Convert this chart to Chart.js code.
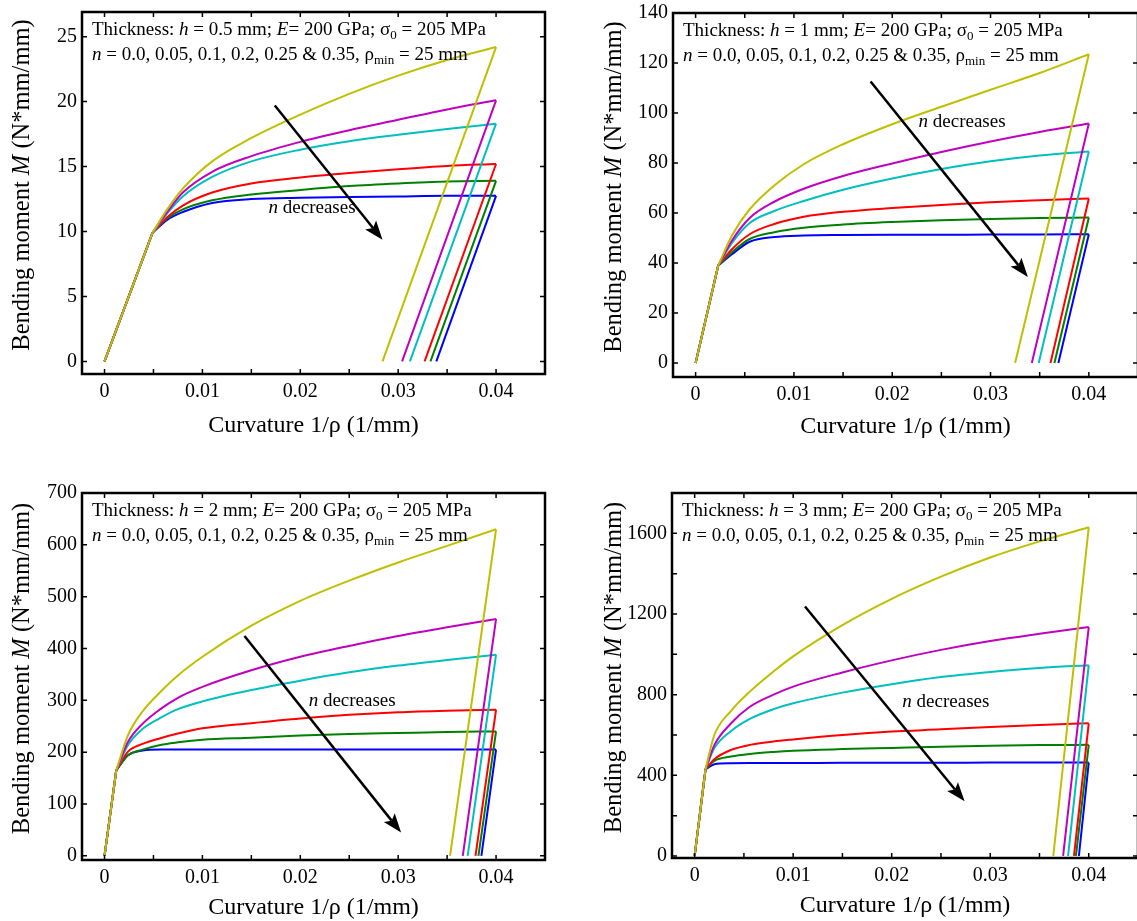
<!DOCTYPE html>
<html>
<head>
<meta charset="utf-8">
<script src="https://cdn.jsdelivr.net/npm/chart.js@4.4.0/dist/chart.umd.min.js"></script>
<style>
  html, body { margin: 0; padding: 0; background: #fff; overflow: hidden; }
  canvas { position: absolute; }
</style>
</head>
<body>
<canvas id="c1" width="592" height="470" style="left:0;top:0"></canvas>
<canvas id="c2" width="560" height="470" style="left:592px;top:0"></canvas>
<canvas id="c3" width="592" height="451" style="left:0;top:470px"></canvas>
<canvas id="c4" width="560" height="451" style="left:592px;top:470px"></canvas>
<script>
// hardening exponents, in drawing order (yellow ... blue)
const nValues = ['0.35', '0.25', '0.2', '0.1', '0.05', '0.0'];
const lineColors = ['#BFBF00', '#BF00BF', '#00BFBF', '#FF0000', '#008000', '#0000FF'];
const xTicks = [0, 0.005, 0.01, 0.015, 0.02, 0.025, 0.03, 0.035, 0.04, 0.045];

// h = 0.5 mm
const kappaA = [0, 0.0049, 0.0064, 0.008, 0.011, 0.015, 0.02, 0.025, 0.03, 0.035, 0.04];
const mA035 = [0, 9.9, 11.7, 13.3, 15.4, 17.2, 19.0, 20.6, 22.0, 23.2, 24.2];
const mA025 = [0, 9.9, 11.5, 13.0, 14.6, 15.8, 16.9, 17.8, 18.6, 19.4, 20.1];
const mA020 = [0, 9.9, 11.4, 12.7, 14.2, 15.4, 16.3, 16.95, 17.45, 17.9, 18.3];
const mA010 = [0, 9.9, 11.1, 12.0, 13.0, 13.7, 14.15, 14.5, 14.8, 15.05, 15.2];
const mA005 = [0, 9.9, 11.0, 11.7, 12.4, 12.85, 13.2, 13.5, 13.7, 13.85, 13.9];
const mA000 = [0, 9.9, 10.9, 11.5, 12.2, 12.5, 12.6, 12.65, 12.7, 12.75, 12.75];
const residualA = [0.0284, 0.0304, 0.0312, 0.0327, 0.0333, 0.0339];
const yTicksA = [0, 5, 10, 15, 20, 25];

// h = 1 mm
const kappaB = [0, 0.0023, 0.0037, 0.0055, 0.008, 0.011, 0.015, 0.02, 0.025, 0.03, 0.035, 0.04];
const mB035 = [0, 39, 51, 61.5, 71, 79.5, 87.5, 95.5, 102.5, 109.3, 116, 123.5];
const mB025 = [0, 39, 49, 58, 64.5, 69.7, 74.8, 79.8, 84.4, 88.6, 92.4, 95.8];
const mB020 = [0, 39, 48, 56, 60.8, 64.8, 69.3, 73.8, 77.6, 80.7, 83, 84.6];
const mB010 = [0, 39, 45.5, 51.5, 55.6, 58.5, 60.5, 62, 63.2, 64.3, 65.1, 65.8];
const mB005 = [0, 39, 44.3, 49.6, 52.3, 54.1, 55.4, 56.4, 57.1, 57.6, 58, 58.2];
const mB000 = [0, 39, 43.5, 48.5, 50.4, 51, 51.2, 51.3, 51.3, 51.4, 51.4, 51.5];
const residualB = [0.0325, 0.0342, 0.0349, 0.0361, 0.0365, 0.0369];
const yTicksB = [0, 20, 40, 60, 80, 100, 120, 140];

// h = 2 mm
const kappaC = [0, 0.0012, 0.0024, 0.0039, 0.0057, 0.0075, 0.01, 0.015, 0.02, 0.025, 0.03, 0.035, 0.04];
const mC035 = [0, 165, 233, 279, 316, 348, 384, 444, 492, 531, 566, 598, 630];
const mC025 = [0, 165, 220, 255, 283, 305, 326, 358, 384, 405, 424, 441, 457];
const mC020 = [0, 165, 214, 245, 266, 283, 298, 320, 338, 354, 367, 378, 388];
const mC010 = [0, 165, 201, 216, 227, 236, 246, 256, 265, 272, 277, 280, 282];
const mC005 = [0, 165, 194, 205, 214, 219, 224, 228, 232, 235, 237, 239, 240];
const mC000 = [0, 165, 194, 203, 205, 205, 205, 205, 205, 205, 205, 205, 205];
const residualC = [0.0353, 0.0366, 0.0371, 0.0379, 0.0382, 0.0385];
const yTicksC = [0, 100, 200, 300, 400, 500, 600, 700];

// h = 3 mm
const kappaD = [0, 0.0011, 0.002, 0.0037, 0.0056, 0.008, 0.01, 0.015, 0.02, 0.025, 0.03, 0.035, 0.04];
const mD035 = [0, 430, 600, 720, 815, 915, 990, 1145, 1275, 1385, 1480, 1560, 1630];
const mD025 = [0, 430, 550, 658, 740, 800, 840, 910, 970, 1022, 1066, 1102, 1135];
const mD020 = [0, 430, 535, 620, 680, 728, 757, 810, 852, 887, 912, 932, 946];
const mD010 = [0, 430, 480, 526, 551, 568, 578, 600, 617, 628, 640, 650, 658];
const mD005 = [0, 430, 472, 493, 506, 516, 522, 530, 536, 542, 547, 550, 551];
const mD000 = [0, 430, 455, 460, 461, 461, 461, 462, 462, 462, 463, 463, 463];
const residualD = [0.0364, 0.0374, 0.0379, 0.0385, 0.0387, 0.039];
const yTicksD = [0, 200, 400, 600, 800, 1000, 1200, 1400, 1600, 1800];

// arrow [x1, y1, x2, y2] and "n decreases" label [x, y], in data units
const arrowA = [0.0174, 19.7, 0.0284, 9.36];
const arrowB = [0.0178, 112.6, 0.0338, 34.4];
const arrowC = [0.0143, 424, 0.0303, 45];
const arrowD = [0.0112, 1237, 0.0274, 271];
const labelA = [0.0212, 11.9];
const labelB = [0.0271, 96.8];
const labelC = [0.0253, 301];
const labelD = [0.0255, 768];

const FONT = 'Liberation Serif';

const panels = [
  {id: 'c1', h: '0.5', w: 592, ht: 470, area: {l: 82, t: 12, r: 545, b: 374}, yMin: -0.97, yMax: 26.9,
   kappa: kappaA, m: [mA035, mA025, mA020, mA010, mA005, mA000], res: residualA, yTicks: yTicksA, yStep: 5,
   arrow: arrowA, label: labelA, xTitle: 58},
  {id: 'c2', h: '1', w: 560, ht: 470, area: {l: 81, t: 13, r: 546, b: 377}, yMin: -5.6, yMax: 140,
   kappa: kappaB, m: [mB035, mB025, mB020, mB010, mB005, mB000], res: residualB, yTicks: yTicksB, yStep: 20,
   arrow: arrowB, label: labelB, xTitle: 56},
  {id: 'c3', h: '2', w: 592, ht: 451, area: {l: 82, t: 23, r: 545, b: 390}, yMin: -8, yMax: 700,
   kappa: kappaC, m: [mC035, mC025, mC020, mC010, mC005, mC000], res: residualC, yTicks: yTicksC, yStep: 100,
   arrow: arrowC, label: labelC, xTitle: 54},
  {id: 'c4', h: '3', w: 560, ht: 451, area: {l: 80, t: 23, r: 546, b: 388}, yMin: -10, yMax: 1800,
   kappa: kappaD, m: [mD035, mD025, mD020, mD010, mD005, mD000], res: residualD, yTicks: yTicksD, yStep: 400,
   arrow: arrowD, label: labelD, xTitle: 54}
];

// draws text made of [string, style] parts; style n = normal, i = italic, s = subscript
function richText(ctx, parts, x, y, size, align){
  let fontFor = st => (st == 'i' ? 'italic ' : '') + (st == 's' ? Math.round(size*0.68) : size) + 'px "' + FONT + '"';
  let total = 0;
  parts.forEach(p => { ctx.font = fontFor(p[1]); total += ctx.measureText(p[0]).width; });
  let cx = align == 'center' ? x - total/2 : x;
  ctx.textAlign = 'left';
  ctx.textBaseline = 'alphabetic';
  parts.forEach(p => {
    ctx.font = fontFor(p[1]);
    ctx.fillText(p[0], cx, p[1] == 's' ? y + size*0.22 : y);
    cx += ctx.measureText(p[0]).width;
  });
}

function decorPlugin(p){
  return {
    id: 'decor',
    afterDatasetsDraw(chart){
      let ctx = chart.ctx;
      let a = chart.chartArea;
      let xs = chart.scales.x, ys = chart.scales.y;
      ctx.save();
      ctx.strokeStyle = '#000';
      ctx.fillStyle = '#000';

      // inward ticks on all four sides
      ctx.lineWidth = 1.5;
      ctx.beginPath();
      xTicks.forEach(v => {
        let px = xs.getPixelForValue(v);
        ctx.moveTo(px, a.bottom); ctx.lineTo(px, a.bottom - 5);
        ctx.moveTo(px, a.top); ctx.lineTo(px, a.top + 5);
      });
      p.yTicks.forEach(v => {
        let py = ys.getPixelForValue(v);
        ctx.moveTo(a.left, py); ctx.lineTo(a.left + 5, py);
        ctx.moveTo(a.right, py); ctx.lineTo(a.right - 5, py);
      });
      ctx.stroke();

      ctx.lineWidth = 2.5;
      ctx.strokeRect(a.left, a.top, a.right - a.left, a.bottom - a.top);

      // arrow
      let x1 = xs.getPixelForValue(p.arrow[0]), y1 = ys.getPixelForValue(p.arrow[1]);
      let x2 = xs.getPixelForValue(p.arrow[2]), y2 = ys.getPixelForValue(p.arrow[3]);
      let ang = Math.atan2(y2 - y1, x2 - x1);
      let headL = 19, headW = 7;
      ctx.lineWidth = 2.5;
      ctx.beginPath();
      ctx.moveTo(x1, y1);
      ctx.lineTo(x2 - headL*0.8*Math.cos(ang), y2 - headL*0.8*Math.sin(ang));
      ctx.stroke();
      ctx.beginPath();
      ctx.moveTo(x2, y2);
      ctx.lineTo(x2 - headL*Math.cos(ang) + headW*Math.sin(ang), y2 - headL*Math.sin(ang) - headW*Math.cos(ang));
      ctx.lineTo(x2 - headL*0.8*Math.cos(ang), y2 - headL*0.8*Math.sin(ang));
      ctx.lineTo(x2 - headL*Math.cos(ang) - headW*Math.sin(ang), y2 - headL*Math.sin(ang) + headW*Math.cos(ang));
      ctx.closePath();
      ctx.fill();

      richText(ctx, [['n', 'i'], [' decreases', 'n']],
        xs.getPixelForValue(p.label[0]), ys.getPixelForValue(p.label[1]) + 6, 19, 'center');

      // parameter note
      richText(ctx, [['Thickness: ', 'n'], ['h', 'i'], [' = ' + p.h + ' mm; ', 'n'], ['E', 'i'],
        ['= 200 GPa; \u03c3', 'n'], ['0', 's'], [' = 205 MPa', 'n']], a.left + 10, a.top + 23, 19);
      richText(ctx, [['n', 'i'], [' = ' + nValues.slice().reverse().join(', ').replace(', 0.35', ' & 0.35') + ', \u03c1', 'n'],
        ['min', 's'], [' = 25 mm', 'n']], a.left + 10, a.top + 48, 19);

      // axis titles
      richText(ctx, [['Curvature 1/\u03c1 (1/mm)', 'n']], (a.left + a.right)/2, a.bottom + p.xTitle, 24, 'center');
      ctx.translate(29, (a.top + a.bottom)/2 - 8);
      ctx.rotate(-Math.PI/2);
      richText(ctx, [['Bending moment ', 'n'], ['M', 'i'], [' (N*mm/mm)', 'n']], 0, 0, 24.5, 'center');
      ctx.restore();
    }
  };
}

panels.forEach(p => {
  let datasets = [];
  p.m.forEach((moments, i) => {
    let last = p.kappa.length - 1;
    let knee = {x: p.kappa[1], y: moments[1]};
    let peak = {x: p.kappa[last], y: moments[last]};
    let style = {borderColor: lineColors[i], borderWidth: 2, pointRadius: 0, fill: false};
    // elastic loading, hardening branch, elastic unloading
    datasets.push(Object.assign({label: 'n = ' + nValues[i], data: [{x: 0, y: 0}, knee], tension: 0}, style));
    datasets.push(Object.assign({label: 'n = ' + nValues[i],
      data: p.kappa.slice(1).map((k, j) => ({x: k, y: moments[j + 1]})),
      cubicInterpolationMode: 'monotone'}, style));
    datasets.push(Object.assign({label: 'n = ' + nValues[i], data: [peak, {x: p.res[i], y: 0}], tension: 0}, style));
  });

  new Chart(document.getElementById(p.id), {
    type: 'line',
    data: {datasets: datasets},
    options: {
      responsive: false,
      animation: false,
      layout: {padding: {top: p.area.t, right: p.w - p.area.r, left: 0, bottom: 0}},
      plugins: {legend: {display: false}, tooltip: {enabled: false}},
      scales: {
        x: {
          type: 'linear', min: -0.0023, max: 0.045,
          grid: {display: false, drawTicks: false, tickLength: 0},
          border: {display: false},
          afterBuildTicks: s => { s.ticks = xTicks.map(v => ({value: v})); },
          afterFit: s => { s.height = p.ht - p.area.b; s.paddingLeft = 0; s.paddingRight = 0; },
          ticks: {
            padding: 6, color: '#000', autoSkip: false, maxRotation: 0,
            font: {family: FONT, size: 20},
            callback: v => {
              let q = v / 0.01;
              if (Math.abs(q - Math.round(q)) > 1e-6) return '';
              return v == 0 ? '0' : v.toFixed(2);
            }
          }
        },
        y: {
          type: 'linear', min: p.yMin, max: p.yMax,
          grid: {display: false, drawTicks: false, tickLength: 0},
          border: {display: false},
          afterBuildTicks: s => { s.ticks = p.yTicks.map(v => ({value: v})); },
          afterFit: s => { s.width = p.area.l; s.paddingTop = 0; s.paddingBottom = 0; },
          ticks: {
            padding: 5, color: '#000', autoSkip: false,
            font: {family: FONT, size: 20},
            callback: v => (v % p.yStep == 0 ? String(v) : '')
          }
        }
      }
    },
    plugins: [decorPlugin(p)]
  });
});
</script>
</body>
</html>
